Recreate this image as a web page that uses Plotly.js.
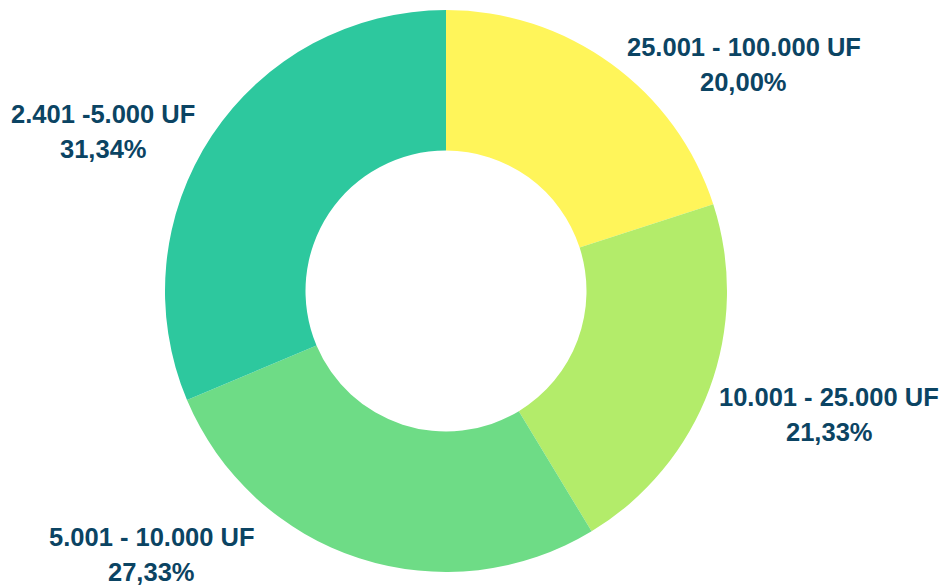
<!DOCTYPE html>
<html>
<head>
<meta charset="utf-8">
<script src="https://cdn.plot.ly/plotly-3.0.1.min.js"></script>
<style>html,body{margin:0;padding:0;background:#fff;}#chart{width:943px;height:585px;}</style>
</head>
<body>
<div id="chart"></div>
<script>
const labels = ["25.001 - 100.000 UF", "10.001 - 25.000 UF", "5.001 - 10.000 UF", "2.401 -5.000 UF"];
const values = [20.00, 21.33, 27.33, 31.34];
const colors = ["#FFF55A", "#B3EC6A", "#6EDC86", "#2DC89E"];

const W = 943, H = 585;
const cx = 446, cy = 291, R = 281;
// pixel offsets of each label block centre from its slice's outer mid-point
const labelShift = [[132.5, 1], [120, 25.5], [-207.5, -4], [-108.5, -4]];
const lineGap = 35.5;
const labelFont = {family: 'Liberation Sans, Arial, sans-serif', size: 25.5, color: '#0B4463'};

const total = values.reduce((a, b) => a + b, 0);
const annotations = [];
let cum = 0;
values.forEach((v, i) => {
  const mid = (cum + v / 2) / total * 2 * Math.PI;
  cum += v;
  const px = cx + R * Math.sin(mid) + labelShift[i][0];
  const py = cy - R * Math.cos(mid) + labelShift[i][1];
  const pct = (v / total * 100).toFixed(2).replace('.', ',') + '%';
  [[labels[i], py - lineGap / 2], [pct, py + lineGap / 2]].forEach(([t, y]) => {
    annotations.push({
      xref: 'paper', yref: 'paper',
      x: px / W, y: 1 - y / H,
      xanchor: 'center', yanchor: 'middle',
      text: '<b>' + t + '</b>', showarrow: false,
      font: labelFont
    });
  });
});

Plotly.newPlot('chart', [{
  type: 'pie',
  labels: labels,
  values: values,
  hole: 0.5,
  sort: false,
  direction: 'clockwise',
  rotation: 0,
  marker: {colors: colors, line: {width: 0}},
  textinfo: 'none',
  hoverinfo: 'none',
  showlegend: false,
  domain: {x: [(cx - R) / W, (cx + R) / W], y: [(H - cy - R) / H, (H - cy + R) / H]}
}], {
  width: W, height: H,
  margin: {l: 0, r: 0, t: 0, b: 0},
  separators: ',.',
  paper_bgcolor: '#ffffff',
  showlegend: false,
  annotations: annotations
}, {displayModeBar: false, staticPlot: true});
</script>
</body>
</html>
